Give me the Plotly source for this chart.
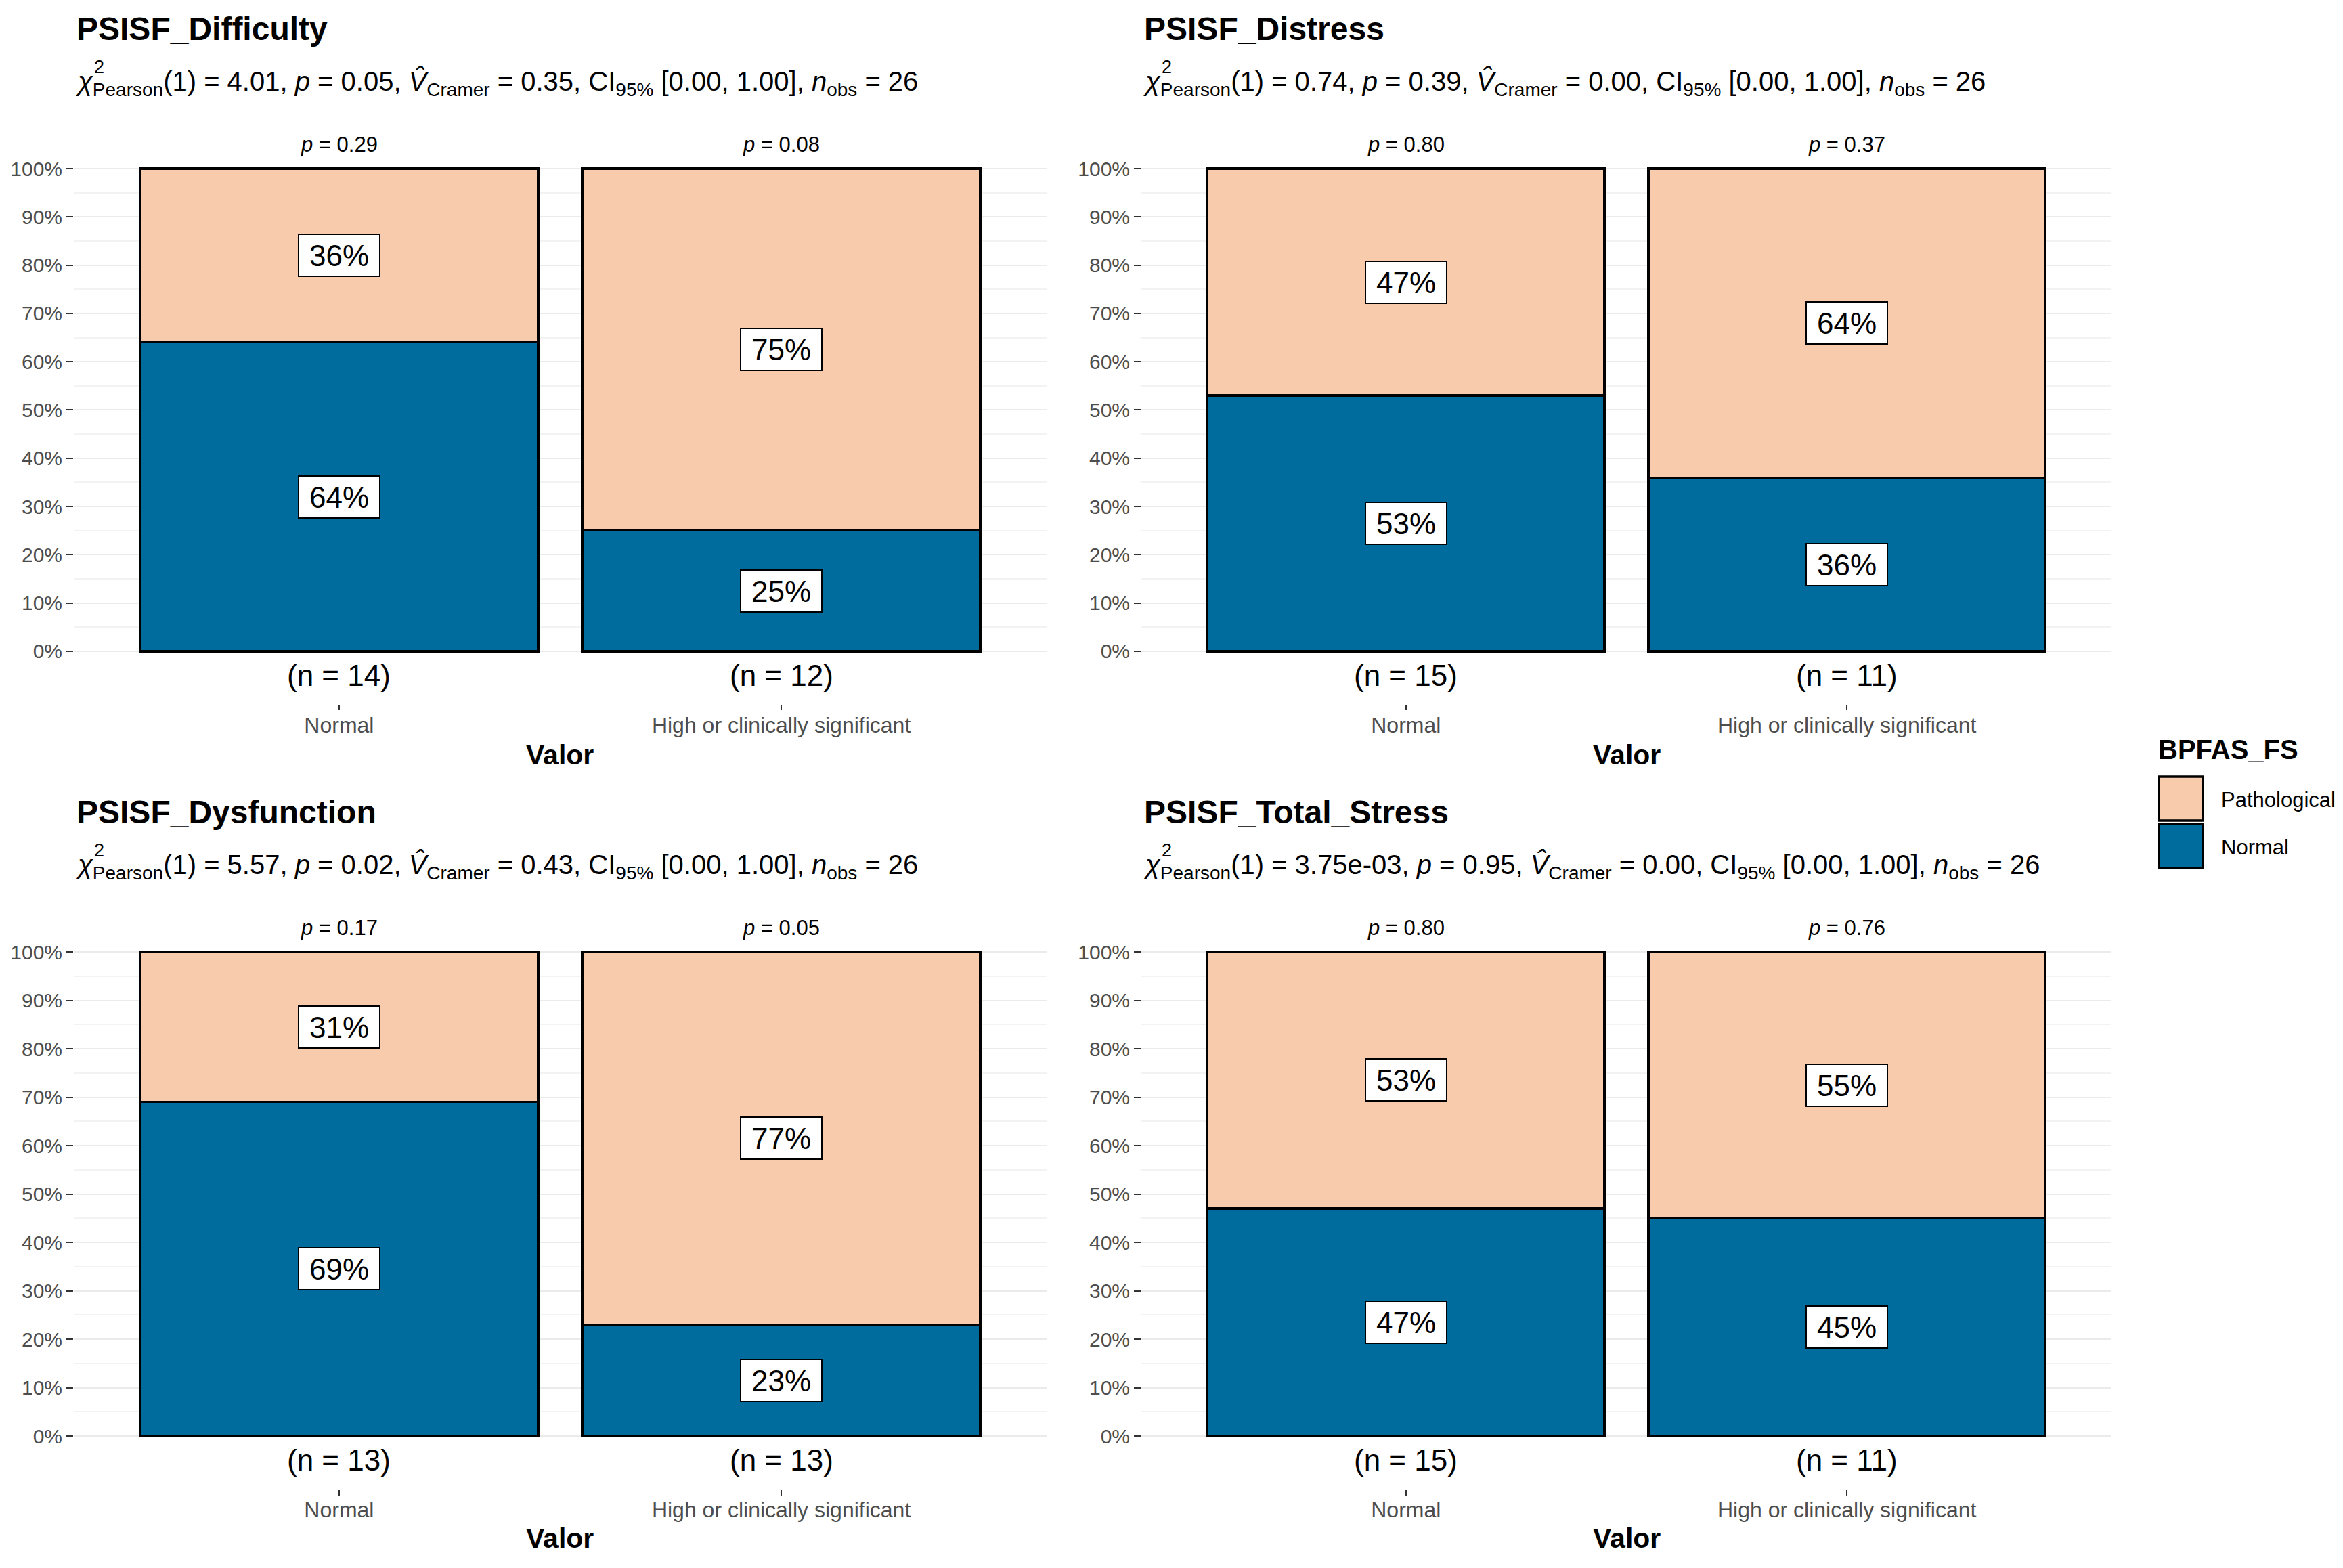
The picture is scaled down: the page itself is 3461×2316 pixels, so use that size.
import plotly.graph_objects as go

# page body has an 8px default margin; the figure is sized to fit inside it
PAGE_W, PAGE_H, OFF = 3461, 2316, 8
W, H = PAGE_W - 2 * OFF, PAGE_H - 2 * OFF

# ---------------- data ----------------
panel_titles = ["PSISF_Difficulty", "PSISF_Distress", "PSISF_Dysfunction", "PSISF_Total_Stress"]
categories = ["Normal", "High or clinically significant"]

difficulty_normal = [64, 25]
difficulty_path = [36, 75]
difficulty_n = [14, 12]
difficulty_p = ["0.29", "0.08"]

distress_normal = [53, 36]
distress_path = [47, 64]
distress_n = [15, 11]
distress_p = ["0.80", "0.37"]

dysfunction_normal = [69, 23]
dysfunction_path = [31, 77]
dysfunction_n = [13, 13]
dysfunction_p = ["0.17", "0.05"]

total_normal = [47, 45]
total_path = [53, 55]
total_n = [15, 11]
total_p = ["0.80", "0.76"]

chi_values = ["4.01", "0.74", "5.57", "3.75e-03"]
chi_p = ["0.05", "0.39", "0.02", "0.95"]
cramer_v = ["0.35", "0.00", "0.43", "0.00"]
ci_text = ["[0.00, 1.00]", "[0.00, 1.00]", "[0.00, 1.00]", "[0.00, 1.00]"]
n_obs = [26, 26, 26, 26]

legend_title = "BPFAS_FS"
legend_labels = ["Pathological", "Normal"]
x_title = "Valor"

normal_sets = [difficulty_normal, distress_normal, dysfunction_normal, total_normal]
path_sets = [difficulty_path, distress_path, dysfunction_path, total_path]
n_sets = [difficulty_n, distress_n, dysfunction_n, total_n]
p_sets = [difficulty_p, distress_p, dysfunction_p, total_p]

# ---------------- style ----------------
C_NORMAL = "#006C9E"
C_PATH = "#F7CBAC"
FONT = "Liberation Sans"
GREY30 = "#4D4D4D"

def px2x(px):
    return (px - OFF) / W

def py2y(py):
    return 1 - (py - OFF) / H

# panel geometry in page pixels: (left, right), (top, bottom)
col_x = [(109, 1546), (1686, 3119)]
row_y = [(177.7, 1040.4), (1334.5, 2199.7)]
row_off = [0, 1157]
YR = [-0.11, 1.10]

fig = go.Figure()
annotations = []
shapes = []
layout_axes = {}

for i in range(4):
    r, c = divmod(i, 2)
    ax = "" if i == 0 else str(i + 1)
    xa, ya = "x" + ax, "y" + ax
    xl, xr = col_x[c]
    yt, yb = row_y[r]

    fig.add_trace(go.Bar(
        x=[0, 1], y=[v / 100 for v in normal_sets[i]], width=0.9,
        marker=dict(color=C_NORMAL, line=dict(color="black", width=3.5)),
        xaxis=xa, yaxis=ya, showlegend=False, hoverinfo="skip"))
    fig.add_trace(go.Bar(
        x=[0, 1], y=[v / 100 for v in path_sets[i]], width=0.9,
        marker=dict(color=C_PATH, line=dict(color="black", width=3.5)),
        xaxis=xa, yaxis=ya, showlegend=False, hoverinfo="skip"))

    layout_axes["xaxis" + ax] = dict(
        domain=[px2x(xl), px2x(xr)], range=[-0.6, 1.6], anchor=ya,
        tickvals=[0, 1], ticktext=categories,
        tickfont=dict(size=32, color=GREY30, family=FONT),
        ticks="outside", ticklen=8, tickwidth=2, tickcolor="#333333",
        ticklabelstandoff=-6,
        showgrid=False, zeroline=False, showline=False, fixedrange=True)
    layout_axes["yaxis" + ax] = dict(
        domain=[py2y(yb), py2y(yt)], range=YR, anchor=xa,
        tickvals=[k / 10 for k in range(11)],
        ticktext=[f"{k * 10}%" for k in range(11)],
        tickfont=dict(size=30, color=GREY30, family=FONT),
        ticks="outside", ticklen=10, tickwidth=2, tickcolor="#333333",
        showgrid=True, gridcolor="#EBEBEB", gridwidth=2.2,
        minor=dict(tickvals=[k / 10 + 0.05 for k in range(10)], showgrid=True,
                   gridcolor="#F3F3F3", gridwidth=1.6, ticks=""),
        zeroline=False, showline=False, fixedrange=True)

    # segment percentage labels
    for j in range(2):
        nv, pv = normal_sets[i][j], path_sets[i][j]
        for val, ypos in [(nv, nv / 200), (pv, nv / 100 + pv / 200)]:
            annotations.append(dict(
                x=j, y=ypos, xref=xa, yref=ya, text=f"{val}%", showarrow=False,
                font=dict(size=44, color="black", family=FONT),
                bgcolor="white", bordercolor="black", borderwidth=2, borderpad=0,
                width=118, height=60, align="center", valign="middle"))
        # n labels
        annotations.append(dict(
            x=j, y=-0.05, xref=xa, yref=ya, text=f"(n = {n_sets[i][j]})",
            showarrow=False, font=dict(size=44, color="black", family=FONT)))
        # p labels
        annotations.append(dict(
            x=j, y=1.05, xref=xa, yref=ya, text=f"<i>p</i> = {p_sets[i][j]}",
            showarrow=False, font=dict(size=31, color="black", family=FONT)))

    off = row_off[r]
    # title
    annotations.append(dict(
        x=px2x(xl + 2), y=py2y(off + 42), xref="paper", yref="paper",
        xanchor="left", yanchor="middle", showarrow=False,
        text=f"<b>{panel_titles[i]}</b>", font=dict(size=48, color="black", family=FONT)))
    # subtitle
    sub = (f"<i>χ</i><sub>Pearson</sub>(1) = {chi_values[i]}, <i>p</i> = {chi_p[i]}, "
           f"<i>V̂</i><sub>Cramer</sub> = {cramer_v[i]}, CI<sub>95%</sub> {ci_text[i]}, "
           f"<i>n</i><sub>obs</sub> = {n_obs[i]}")
    annotations.append(dict(
        x=px2x(xl + 1), y=py2y(off + 122), xref="paper", yref="paper",
        xanchor="left", yanchor="middle", showarrow=False,
        text=sub, font=dict(size=40, color="black", family=FONT)))
    annotations.append(dict(
        x=px2x(xl + 28), y=py2y(off + 99), xref="paper", yref="paper",
        xanchor="left", yanchor="middle", showarrow=False,
        text="2", font=dict(size=27, color="black", family=FONT)))
    # axis title
    annotations.append(dict(
        x=px2x(827 if c == 0 else 2403), y=py2y(off + 1115), xref="paper", yref="paper",
        xanchor="center", yanchor="middle", showarrow=False,
        text=f"<b>{x_title}</b>", font=dict(size=41, color="black", family=FONT)))

# legend
annotations.append(dict(
    x=px2x(3186), y=py2y(1107), xref="paper", yref="paper", xanchor="left",
    yanchor="middle", showarrow=False, text=f"<b>{legend_title}</b>",
    font=dict(size=40, color="black", family=FONT)))
for k, (lab, col) in enumerate(zip(legend_labels, [C_PATH, C_NORMAL])):
    top = 1147 + k * 70
    shapes.append(dict(type="rect", xref="paper", yref="paper",
                       x0=px2x(3189), x1=px2x(3254), y0=py2y(top + 65), y1=py2y(top),
                       fillcolor=col, line=dict(color="black", width=3.5)))
    annotations.append(dict(
        x=px2x(3279), y=py2y(top + 34), xref="paper", yref="paper", xanchor="left",
        yanchor="middle", showarrow=False, text=lab,
        font=dict(size=31, color="black", family=FONT)))

fig.update_layout(
    width=W, height=H, margin=dict(l=0, r=0, t=0, b=0),
    paper_bgcolor="white", plot_bgcolor="white",
    barmode="stack", bargap=0.1, showlegend=False,
    font=dict(family=FONT), annotations=annotations, shapes=shapes,
    **layout_axes)

fig.write_html("out.html")
